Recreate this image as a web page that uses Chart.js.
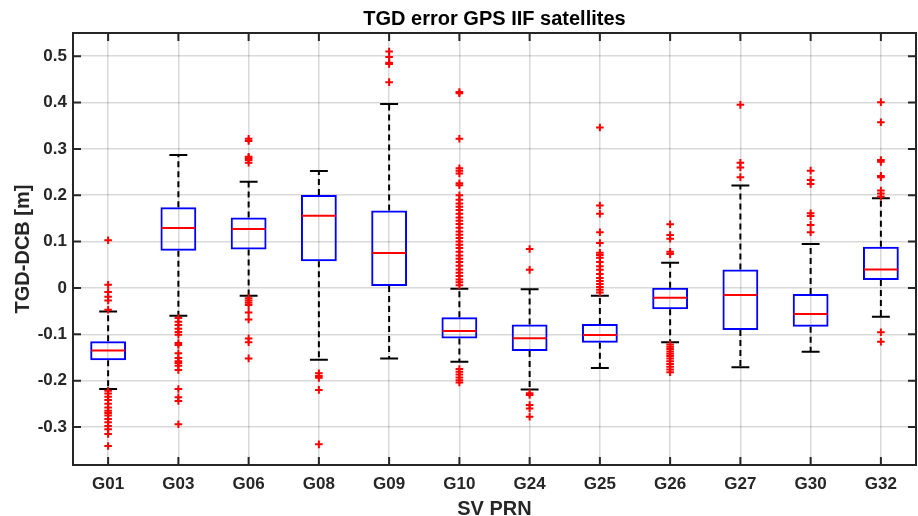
<!DOCTYPE html>
<html>
<head>
<meta charset="utf-8">
<script src="https://cdn.jsdelivr.net/npm/chart.js@4"></script>
<style>
  body { margin: 0; background: #fff; }
</style>
</head>
<body>
<canvas id="box-chart" width="918" height="516"></canvas>
<script>
const categories = ["G01", "G03", "G06", "G08", "G09", "G10", "G24", "G25", "G26", "G27", "G30", "G32"];
const q1 = [-0.156, 0.080, 0.083, 0.0575, 0.0043, -0.109, -0.136, -0.118, -0.046, -0.0907, -0.0835, 0.017];
const medians = [-0.135, 0.1295, 0.127, 0.156, 0.0755, -0.093, -0.1086, -0.1015, -0.021, -0.015, -0.056, 0.040];
const q3 = [-0.115, 0.174, 0.152, 0.2007, 0.167, -0.063, -0.079, -0.0777, 0.0006, 0.040, -0.013, 0.089];
const whiskerLow = [-0.218, -0.060, -0.017, -0.155, -0.152, -0.159, -0.219, -0.173, -0.117, -0.171, -0.1375, -0.062];
const whiskerHigh = [-0.051, 0.287, 0.229, 0.2525, 0.397, -0.002, -0.003, -0.017, 0.0546, 0.221, 0.095, 0.1936];
const outliers = [
  [0.103, 0.007, -0.009, -0.019, -0.027, -0.047, -0.222, -0.228, -0.235, -0.242, -0.25, -0.258, -0.265, -0.27, -0.275, -0.283, -0.29, -0.298, -0.305, -0.315, -0.341],
  [-0.065, -0.073, -0.08, -0.088, -0.095, -0.101, -0.119, -0.123, -0.141, -0.151, -0.158, -0.162, -0.168, -0.177, -0.218, -0.236, -0.244, -0.294],
  [0.322, 0.317, 0.283, 0.280, 0.276, 0.270, -0.022, -0.027, -0.032, -0.037, -0.053, -0.068, -0.109, -0.117, -0.152],
  [-0.184, -0.19, -0.194, -0.22, -0.3375],
  [0.51, 0.498, 0.486, 0.483, 0.444],
  [0.4225, 0.42, 0.322, 0.258, 0.253, 0.247, 0.226, 0.2215, 0.2, 0.19, 0.182, 0.175, 0.168, 0.16, 0.152, 0.145, 0.138, 0.13, 0.122, 0.115, 0.108, 0.1, 0.093, 0.086, 0.078, 0.07, 0.063, 0.056, 0.048, 0.04, 0.033, 0.026, 0.018, 0.012, 0.006, -0.175, -0.181, -0.187, -0.193, -0.199, -0.204],
  [0.084, 0.039, -0.227, -0.231, -0.2525, -0.26, -0.278],
  [0.346, 0.178, 0.16, 0.12, 0.097, 0.076, 0.071, 0.065, 0.056, 0.047, 0.039, 0.03, 0.0216, 0.015, 0.0086, 0.002, -0.004, -0.01],
  [0.1375, 0.114, 0.106, 0.078, 0.073, -0.122, -0.127, -0.132, -0.137, -0.142, -0.147, -0.152, -0.158, -0.164, -0.17, -0.176, -0.182],
  [0.395, 0.27, 0.26, 0.239],
  [0.253, 0.233, 0.2245, 0.161, 0.155, 0.136, 0.12],
  [0.4008, 0.3576, 0.276, 0.272, 0.2417, 0.239, 0.21, 0.204, 0.197, -0.0957, -0.116]
];
const yTicks = [-0.3, -0.2, -0.1, 0, 0.1, 0.2, 0.3, 0.4, 0.5];
const yTickLabels = ["-0.3", "-0.2", "-0.1", "0", "0.1", "0.2", "0.3", "0.4", "0.5"];

const FONT = "'Liberation Sans', Arial, sans-serif";
const TEXT = "#262626";

// whiskers, caps, medians, frame and inward ticks (matlab look)
const boxParts = {
  id: "boxParts",
  beforeDatasetsDraw(chart) {
    const { ctx, scales: { x, y } } = chart;
    const bars = chart.getDatasetMeta(0).data;
    ctx.save();
    ctx.strokeStyle = "#000";
    ctx.lineWidth = 2;
    categories.forEach((c, i) => {
      const cx = x.getPixelForValue(i);
      const half = bars[i].width / 4;
      ctx.setLineDash([6, 4]);
      ctx.beginPath();
      ctx.moveTo(cx, y.getPixelForValue(q3[i]));
      ctx.lineTo(cx, y.getPixelForValue(whiskerHigh[i]));
      ctx.moveTo(cx, y.getPixelForValue(q1[i]));
      ctx.lineTo(cx, y.getPixelForValue(whiskerLow[i]));
      ctx.stroke();
      ctx.setLineDash([]);
      ctx.beginPath();
      ctx.moveTo(cx - half, y.getPixelForValue(whiskerHigh[i]));
      ctx.lineTo(cx + half, y.getPixelForValue(whiskerHigh[i]));
      ctx.moveTo(cx - half, y.getPixelForValue(whiskerLow[i]));
      ctx.lineTo(cx + half, y.getPixelForValue(whiskerLow[i]));
      ctx.stroke();
    });
    ctx.restore();
  },
  afterDatasetDraw(chart, args) {
    if (args.index !== 0) return;
    const { ctx, scales: { x, y } } = chart;
    const bars = chart.getDatasetMeta(0).data;
    ctx.save();
    ctx.strokeStyle = "#ff0000";
    ctx.lineWidth = 2;
    categories.forEach((c, i) => {
      const cx = x.getPixelForValue(i);
      const half = bars[i].width / 2 - 1;
      const my = y.getPixelForValue(medians[i]);
      ctx.beginPath();
      ctx.moveTo(cx - half, my);
      ctx.lineTo(cx + half, my);
      ctx.stroke();
    });
    ctx.restore();
  },
  afterDraw(chart) {
    const { ctx, chartArea: a, scales: { x, y } } = chart;
    const tl = 8;
    ctx.save();
    ctx.strokeStyle = TEXT;
    ctx.lineWidth = 2;
    ctx.strokeRect(a.left, a.top, a.right - a.left, a.bottom - a.top);
    ctx.beginPath();
    x.ticks.forEach((t, i) => {
      const px = x.getPixelForTick(i);
      ctx.moveTo(px, a.bottom);
      ctx.lineTo(px, a.bottom - tl);
      ctx.moveTo(px, a.top);
      ctx.lineTo(px, a.top + tl);
    });
    yTicks.forEach((v) => {
      const py = y.getPixelForValue(v);
      ctx.moveTo(a.left, py);
      ctx.lineTo(a.left + tl, py);
      ctx.moveTo(a.right, py);
      ctx.lineTo(a.right - tl, py);
    });
    ctx.stroke();
    ctx.restore();
  }
};

const outlierPoints = categories.flatMap((c, i) => outliers[i].map((v) => ({ x: c, y: v })));

new Chart(document.getElementById("box-chart"), {
  type: "bar",
  data: {
    labels: categories,
    datasets: [
      {
        data: categories.map((c, i) => [q1[i], q3[i]]),
        backgroundColor: "rgba(0,0,0,0)",
        borderColor: "#0000ff",
        borderWidth: 2,
        borderSkipped: false,
        categoryPercentage: 1,
        barPercentage: 0.51,
        order: 2
      },
      {
        type: "line",
        data: outlierPoints,
        showLine: false,
        pointStyle: "cross",
        pointRadius: 3.8,
        pointBorderWidth: 2,
        borderColor: "#ff0000",
        backgroundColor: "#ff0000",
        order: 1
      }
    ]
  },
  options: {
    responsive: false,
    animation: false,
    layout: { autoPadding: false, padding: { left: 0, right: 2, top: 0, bottom: 0 } },
    plugins: {
      legend: { display: false },
      tooltip: { enabled: false },
      title: {
        display: true,
        fullSize: false,
        text: "TGD error GPS IIF satellites",
        color: "#000",
        font: { family: FONT, size: 20, weight: "bold", lineHeight: 1.2 },
        padding: { top: 7, bottom: 2 }
      }
    },
    scales: {
      x: {
        offset: true,
        grid: { offset: false, color: "rgba(0,0,0,0.15)", lineWidth: 1.5, drawTicks: false },
        border: { display: false },
        ticks: { color: TEXT, padding: 9, font: { family: FONT, size: 17, weight: "bold" } },
        title: {
          display: true,
          text: "SV PRN",
          color: TEXT,
          font: { family: FONT, size: 20, weight: "bold", lineHeight: 1 },
          padding: { top: 0, bottom: -3 }
        },
        afterFit(scale) {
          scale.height = 51;
          scale.paddingLeft = 0;
          scale.paddingRight = 0;
        }
      },
      y: {
        min: -0.382,
        max: 0.55,
        grid: { color: "rgba(0,0,0,0.15)", lineWidth: 1.5, drawTicks: false },
        border: { display: false },
        afterBuildTicks(scale) { scale.ticks = yTicks.map((v) => ({ value: v })); },
        ticks: {
          color: TEXT,
          padding: 6,
          font: { family: FONT, size: 17, weight: "bold" },
          callback: (v) => yTickLabels[yTicks.findIndex((t) => Math.abs(t - v) < 1e-9)]
        },
        title: {
          display: true,
          text: "TGD-DCB [m]",
          color: TEXT,
          font: { family: FONT, size: 20, weight: "bold", lineHeight: 1.2 },
          padding: { top: 11.5, bottom: 0 }
        },
        afterFit(scale) {
          scale.width = 73;
          scale.paddingTop = 0;
          scale.paddingBottom = 0;
        }
      }
    }
  },
  plugins: [boxParts]
});
</script>
</body>
</html>
